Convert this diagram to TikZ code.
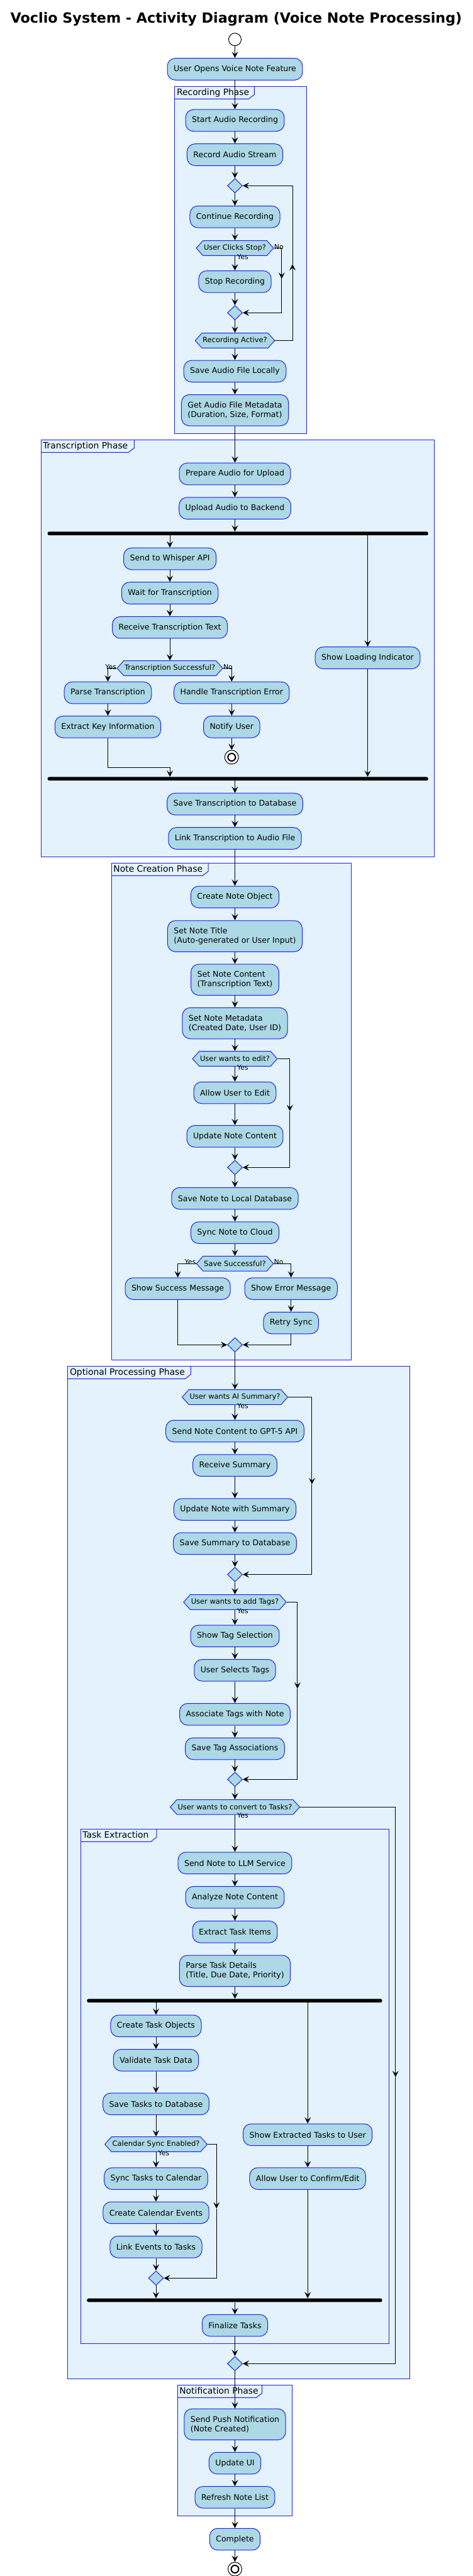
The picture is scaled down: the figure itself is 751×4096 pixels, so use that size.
\documentclass[tikz,border=0pt]{standalone}
\usepackage{fontspec}
\setmainfont{DejaVu Sans}
\usepackage{tikz}
\usetikzlibrary{arrows.meta,shapes.geometric,shapes.symbols}

\definecolor{actfill}{HTML}{ADD8E6}
\definecolor{actline}{HTML}{1F1FF5}
\definecolor{phasefill}{HTML}{E3F2FD}

\tikzset{
  act/.style={rectangle, rounded corners=9.4pt, draw=actline, fill=actfill, line width=0.75pt,
    font=\fontsize{9.4}{11.25}\selectfont, inner xsep=7.5pt, inner ysep=0pt, minimum height=25.9pt},
  acttwo/.style={act, align=left, minimum height=37.1pt},
  ask/.style={signal, signal to=west and east, signal pointer angle=96, draw=actline, fill=actfill,
    line width=0.75pt, font=\fontsize{8.6}{10}\selectfont, inner xsep=1pt, inner ysep=0pt, minimum height=17.7pt},
  merge/.style={diamond, draw=actline, fill=actfill, line width=0.75pt, minimum width=18pt, minimum height=17.3pt, inner sep=0pt},
  bar/.style={rectangle, fill=black, rounded corners=2pt, minimum height=4.3pt, inner sep=0pt},
  flow/.style={draw, line width=0.75pt, -{Stealth[length=7.5pt,width=7.5pt,inset=3pt]}},
  lbl/.style={font=\fontsize{8.2}{10}\selectfont, inner sep=0pt},
  phase/.style={draw=actline, fill=phasefill, line width=0.75pt},
  phasetitle/.style={font=\fontsize{10.4}{12}\selectfont, inner sep=0pt, anchor=base west},
  startnode/.style={circle, draw, fill=white, line width=0.75pt, minimum size=15pt, inner sep=0pt},
  stopnode/.style={circle, draw, fill=white, line width=0.75pt, minimum size=16.5pt, inner sep=0pt,
    path picture={\draw[line width=1.5pt] (path picture bounding box.center) circle (4.5pt);}},
}

\begin{document}
\begin{tikzpicture}[x=0.75pt,y=0.75pt,yscale=-1,xscale=1]
\useasboundingbox (0,0) rectangle (751,4096);

% Phases
\foreach \fx/\fy/\fX/\fY/\tr/\ft [count=\i] in {
  277.8/137.3/487.2/689.3/404.4/Recording Phase,
  65/699.3/690.9/1362/213.3/Transcription Phase,
  177.2/1372.3/558.5/2162.3/331.2/Note Creation Phase,
  107.8/2172.3/651/3782.3/303.3/Optional Processing Phase,
  128.1/2908.3/618.7/3726.3/248.9/Task Extraction,
  282.1/3792.3/464.1/4000.3/416.5/Notification Phase}
{
  \draw[phase] (\fx,\fy) rectangle (\fX,\fY);
  \draw[phase, fill=none] (\fx,\fy+20) -- (\tr-9,\fy+20) -- (\tr,\fy+13) -- (\tr,\fy);
  \node[phasetitle] (phase\i) at (\fx+3,\fy+14.4) {\ft};
}

% Title
\node[font=\fontsize{16.7}{20}\selectfont\bfseries, anchor=base] (title) at (375.5,37) {Voclio System - Activity Diagram (Voice Note Processing)};

% Recording
\node[startnode] (start) at (373.5,62.7) {};
\node[act] (open) at (373.5,110) {User Opens Voice Note Feature};
\node[act] (startrec) at (373.5,191.5) {Start Audio Recording};
\node[act] (recstream) at (373.5,246) {Record Audio Stream};
\node[merge] (loopin) at (373.5,295.3) {};
\node[act] (contrec) at (373.5,344.8) {Continue Recording};
\node[ask] (stopq) at (373.5,394.5) {User Clicks Stop?};
\node[act] (stoprec) at (373.5,447.8) {Stop Recording};
\node[merge] (stopout) at (373.5,497.3) {};
\node[ask] (activeq) at (373.5,541.5) {Recording Active?};
\node[act] (savelocal) at (373.5,590.3) {Save Audio File Locally};
\node[acttwo] (metadata) at (373.5,652.3) {Get Audio File Metadata\\(Duration, Size, Format)};
\coordinate (stopmid) at (447.8,443.3);
\coordinate (loopmid) at (465.1,420);

% Transcription
\node[act] (prepare) at (373.5,753.5) {Prepare Audio for Upload};
\node[act] (upload) at (373.5,808.2) {Upload Audio to Backend};
\node[bar, minimum width=453.9pt] (forka) at (378.2,848.3) {};
\node[act] (whisper) at (270.1,888.5) {Send to Whisper API};
\node[act] (waittr) at (270.1,943) {Wait for Transcription};
\node[act] (receive) at (270.1,997.7) {Receive Transcription Text};
\node[act] (loading) at (584.5,1046) {Show Loading Indicator};
\node[ask] (transq) at (270.1,1062.5) {Transcription Successful?};
\node[act] (parse) at (171.5,1101.5) {Parse Transcription};
\node[act] (handleerr) at (368.3,1101.5) {Handle Transcription Error};
\node[act] (extract) at (171.5,1155.8) {Extract Key Information};
\node[act] (notify) at (368.3,1155.8) {Notify User};
\node[stopnode] (endtrans) at (368.3,1204) {};
\coordinate (extractbend) at (270.1,1220.3);
\node[bar, minimum width=453.9pt] (joina) at (378.2,1238.3) {};
\node[act] (savetrans) at (373.5,1278.5) {Save Transcription to Database};
\node[act] (linktrans) at (373.5,1333) {Link Transcription to Audio File};

% Note creation
\node[act] (createnote) at (373.5,1426.3) {Create Note Object};
\node[acttwo] (settitle) at (373.5,1488.5) {Set Note Title\\(Auto-generated or User Input)};
\node[acttwo] (setcontent) at (373.5,1557.8) {Set Note Content\\(Transcription Text)};
\node[acttwo] (setmeta) at (373.5,1627) {Set Note Metadata\\(Created Date, User ID)};
\node[ask] (editq) at (373.5,1683.5) {User wants to edit?};
\node[act] (allowedit) at (373.5,1737.5) {Allow User to Edit};
\node[act] (updatecontent) at (373.5,1806.8) {Update Note Content};
\node[merge] (editout) at (373.5,1856.3) {};
\node[act] (savelocaldb) at (373.5,1905.5) {Save Note to Local Database};
\node[act] (synccloud) at (373.5,1960) {Sync Note to Cloud};
\node[ask] (saveq) at (373.5,2009.2) {Save Successful?};
\node[act] (success) at (282.6,2049) {Show Success Message};
\node[act] (errormsg) at (462.7,2049) {Show Error Message};
\node[act] (retry) at (462.7,2103.5) {Retry Sync};
\node[merge] (saveout) at (373.5,2138.3) {};
\coordinate (editmid) at (460.8,1766.7);

% Optional processing
\node[ask] (aiq) at (373.5,2221.5) {User wants AI Summary?};
\node[act] (sendgpt) at (373.5,2275.5) {Send Note Content to GPT-5 API};
\node[act] (recsummary) at (373.5,2330) {Receive Summary};
\node[act] (updsummary) at (373.5,2400) {Update Note with Summary};
\node[act] (savesummary) at (373.5,2454.3) {Save Summary to Database};
\node[merge] (aiout) at (373.5,2503.5) {};
\node[ask] (tagsq) at (373.5,2547.5) {User wants to add Tags?};
\node[act] (showtags) at (373.5,2601.3) {Show Tag Selection};
\node[act] (selecttags) at (373.5,2655.8) {User Selects Tags};
\node[act] (assoctags) at (373.5,2725.8) {Associate Tags with Note};
\node[act] (savetags) at (373.5,2780.5) {Save Tag Associations};
\node[merge] (tagsout) at (373.5,2829.3) {};
\node[ask] (tasksq) at (373.5,2873.3) {User wants to convert to Tasks?};
\coordinate (aimid) at (495.9,2360);
\coordinate (tagsmid) at (472.8,2685);
\coordinate (tasksmid) at (628.8,3302.7);

% Task extraction
\node[act] (sendllm) at (373.5,2962.3) {Send Note to LLM Service};
\node[act] (analyze) at (373.5,3016.8) {Analyze Note Content};
\node[act] (extracttasks) at (373.5,3071.8) {Extract Task Items};
\node[acttwo] (parsetasks) at (373.5,3133.8) {Parse Task Details\\(Title, Due Date, Priority)};
\node[bar, minimum width=352pt] (forkb) at (372.9,3181.2) {};
\node[act] (createtasks) at (248,3221.3) {Create Task Objects};
\node[act] (validate) at (248,3275.8) {Validate Task Data};
\node[act] (savetasks) at (248,3345.3) {Save Tasks to Database};
\node[ask] (calq) at (248,3409.5) {Calendar Sync Enabled?};
\node[act] (synccal) at (248,3464) {Sync Tasks to Calendar};
\node[act] (createevents) at (248,3518.3) {Create Calendar Events};
\node[act] (linkevents) at (248,3572.8) {Link Events to Tasks};
\node[merge] (calout) at (248,3622.3) {};
\node[act] (showextracted) at (489.2,3394.3) {Show Extracted Tasks to User};
\node[act] (confirm) at (489.2,3464) {Allow User to Confirm/Edit};
\node[bar, minimum width=352pt] (joinb) at (372.9,3657.5) {};
\node[act] (finalize) at (373.5,3697.5) {Finalize Tasks};
\node[merge] (tasksout) at (373.5,3758.3) {};
\coordinate (calmid) at (344.2,3511.7);

% Notification
\node[acttwo] (pushnote) at (373.5,3854.8) {Send Push Notification\\(Note Created)};
\node[act] (updateui) at (373.5,3916.5) {Update UI};
\node[act] (refresh) at (373.5,3970.8) {Refresh Note List};
\node[act] (complete) at (373.5,4037.5) {Complete};
\node[stopnode] (endflow) at (373.5,4085) {};

% Branch labels
\node[lbl, anchor=south west] (nostop) at ([yshift=1.5pt]stopq.east) {No};
\node[lbl, anchor=north west] (yesstop) at ([xshift=2.5pt,yshift=-2.2pt]stopq.south) {Yes};
\node[lbl, anchor=south east] (yestrans) at ([yshift=1.5pt]transq.west) {Yes};
\node[lbl, anchor=south west] (notrans) at ([yshift=1.5pt]transq.east) {No};
\node[lbl, anchor=north west] (yesedit) at ([xshift=2.5pt,yshift=-2.2pt]editq.south) {Yes};
\node[lbl, anchor=south east] (yessave) at ([yshift=1.5pt]saveq.west) {Yes};
\node[lbl, anchor=south west] (nosave) at ([yshift=1.5pt]saveq.east) {No};
\node[lbl, anchor=north west] (yesai) at ([xshift=2.5pt,yshift=-2.2pt]aiq.south) {Yes};
\node[lbl, anchor=north west] (yestags) at ([xshift=2.5pt,yshift=-2.2pt]tagsq.south) {Yes};
\node[lbl, anchor=north west] (yestasks) at ([xshift=2.5pt,yshift=-2.2pt]tasksq.south) {Yes};
\node[lbl, anchor=north west] (yescal) at ([xshift=2.5pt,yshift=-2.2pt]calq.south) {Yes};

% Recording flow
\draw[flow] (start.south) -- (open.north);
\draw[flow] (open.south) -- (startrec.north);
\draw[flow] (startrec.south) -- (recstream.north);
\draw[flow] (recstream.south) -- (loopin.north);
\draw[flow] (loopin.south) -- (contrec.north);
\draw[flow] (contrec.south) -- (stopq.north);
\draw[flow] (stopq.south) -- (stoprec.north);
\draw[flow] (stoprec.south) -- (stopout.north);
\draw[flow] (stopq.east) -| (stopmid);
\draw[flow] (stopmid) |- (stopout.east);
\draw[flow] (stopout.south) -- (activeq.north);
\draw[flow] (activeq.east) -| (loopmid);
\draw[flow] (loopmid) |- (loopin.east);
\draw[flow] (activeq.south) -- (savelocal.north);
\draw[flow] (savelocal.south) -- (metadata.north);
\draw[flow] (metadata.south) -- (prepare.north);

% Transcription flow
\draw[flow] (prepare.south) -- (upload.north);
\draw[flow] (upload.south) -- (upload.south |- forka.north);
\draw[flow] (whisper.north |- forka.south) -- (whisper.north);
\draw[flow] (loading.north |- forka.south) -- (loading.north);
\draw[flow] (whisper.south) -- (waittr.north);
\draw[flow] (waittr.south) -- (receive.north);
\draw[flow] (receive.south) -- (transq.north);
\draw[flow] (transq.west) -| (parse.north);
\draw[flow] (transq.east) -| (handleerr.north);
\draw[flow] (parse.south) -- (extract.north);
\draw[flow] (handleerr.south) -- (notify.north);
\draw[flow] (notify.south) -- (endtrans.north);
\draw[flow] (extract.south) |- (extractbend) -- (extractbend |- joina.north);
\draw[flow] (loading.south) -- (loading.south |- joina.north);
\draw[flow] (savetrans.north |- joina.south) -- (savetrans.north);
\draw[flow] (savetrans.south) -- (linktrans.north);
\draw[flow] (linktrans.south) -- (createnote.north);

% Note creation flow
\draw[flow] (createnote.south) -- (settitle.north);
\draw[flow] (settitle.south) -- (setcontent.north);
\draw[flow] (setcontent.south) -- (setmeta.north);
\draw[flow] (setmeta.south) -- (editq.north);
\draw[flow] (editq.south) -- (allowedit.north);
\draw[flow] (allowedit.south) -- (updatecontent.north);
\draw[flow] (updatecontent.south) -- (editout.north);
\draw[flow] (editq.east) -| (editmid);
\draw[flow] (editmid) |- (editout.east);
\draw[flow] (editout.south) -- (savelocaldb.north);
\draw[flow] (savelocaldb.south) -- (synccloud.north);
\draw[flow] (synccloud.south) -- (saveq.north);
\draw[flow] (saveq.west) -| (success.north);
\draw[flow] (saveq.east) -| (errormsg.north);
\draw[flow] (errormsg.south) -- (retry.north);
\draw[flow] (success.south) |- (saveout.west);
\draw[flow] (retry.south) |- (saveout.east);
\draw[flow] (saveout.south) -- (aiq.north);

% Optional processing flow
\draw[flow] (aiq.south) -- (sendgpt.north);
\draw[flow] (sendgpt.south) -- (recsummary.north);
\draw[flow] (recsummary.south) -- (updsummary.north);
\draw[flow] (updsummary.south) -- (savesummary.north);
\draw[flow] (savesummary.south) -- (aiout.north);
\draw[flow] (aiq.east) -| (aimid);
\draw[flow] (aimid) |- (aiout.east);
\draw[flow] (aiout.south) -- (tagsq.north);
\draw[flow] (tagsq.south) -- (showtags.north);
\draw[flow] (showtags.south) -- (selecttags.north);
\draw[flow] (selecttags.south) -- (assoctags.north);
\draw[flow] (assoctags.south) -- (savetags.north);
\draw[flow] (savetags.south) -- (tagsout.north);
\draw[flow] (tagsq.east) -| (tagsmid);
\draw[flow] (tagsmid) |- (tagsout.east);
\draw[flow] (tagsout.south) -- (tasksq.north);
\draw[flow] (tasksq.south) -- (sendllm.north);
\draw[flow] (tasksq.east) -| (tasksmid);
\draw[flow] (tasksmid) |- (tasksout.east);

% Task extraction flow
\draw[flow] (sendllm.south) -- (analyze.north);
\draw[flow] (analyze.south) -- (extracttasks.north);
\draw[flow] (extracttasks.south) -- (parsetasks.north);
\draw[flow] (parsetasks.south) -- (parsetasks.south |- forkb.north);
\draw[flow] (createtasks.north |- forkb.south) -- (createtasks.north);
\draw[flow] (showextracted.north |- forkb.south) -- (showextracted.north);
\draw[flow] (createtasks.south) -- (validate.north);
\draw[flow] (validate.south) -- (savetasks.north);
\draw[flow] (savetasks.south) -- (calq.north);
\draw[flow] (calq.south) -- (synccal.north);
\draw[flow] (synccal.south) -- (createevents.north);
\draw[flow] (createevents.south) -- (linkevents.north);
\draw[flow] (linkevents.south) -- (calout.north);
\draw[flow] (calq.east) -| (calmid);
\draw[flow] (calmid) |- (calout.east);
\draw[flow] (calout.south) -- (calout.south |- joinb.north);
\draw[flow] (showextracted.south) -- (confirm.north);
\draw[flow] (confirm.south) -- (confirm.south |- joinb.north);
\draw[flow] (finalize.north |- joinb.south) -- (finalize.north);
\draw[flow] (finalize.south) -- (tasksout.north);

% Notification flow
\draw[flow] (tasksout.south) -- (pushnote.north);
\draw[flow] (pushnote.south) -- (updateui.north);
\draw[flow] (updateui.south) -- (refresh.north);
\draw[flow] (refresh.south) -- (complete.north);
\draw[flow] (complete.south) -- (endflow.north);

\end{tikzpicture}
\end{document}
